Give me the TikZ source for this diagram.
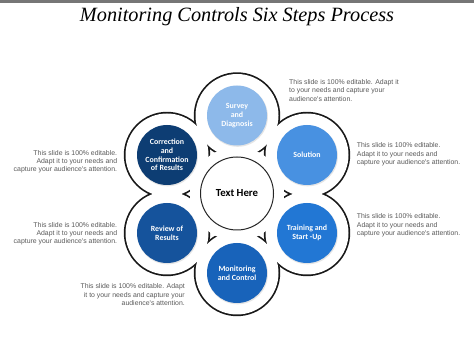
\documentclass[tikz,border=0pt]{standalone}
\usepackage{fontspec}
\usepackage{graphicx}
\newfontfamily\lblfont{Carlito}
\newfontfamily\descfont{Liberation Sans}
\newfontfamily\ttlfont{Liberation Serif}
\definecolor{cS}{RGB}{141,185,234}
\definecolor{cSo}{RGB}{72,145,225}
\definecolor{cT}{RGB}{34,119,212}
\definecolor{cM}{RGB}{24,99,186}
\definecolor{cR}{RGB}{21,83,156}
\definecolor{cC}{RGB}{13,61,115}
\definecolor{desccol}{RGB}{90,90,90}
\definecolor{topbar}{RGB}{118,118,118}
\begin{document}
\begin{tikzpicture}[x=1pt,y=-1pt,
  ringline/.style={draw=black!90, line width=3.4pt},
  petal/.style={circle, minimum size=60pt, inner sep=0pt, text=white, align=center,
    font=\lblfont\bfseries\fontsize{7.9}{8.7}\selectfont},
  shade/.style={fill=black!10},
  desc/.style={inner sep=0pt, text=desccol, font=\descfont\fontsize{6.9}{8.2}\selectfont},
  ]
\useasboundingbox (0,0) rectangle (474,355);
\fill[white] (0,0) rectangle (474,355);
\fill[topbar] (0,0) rectangle (474,2.7);
% title
\node[anchor=base, inner sep=0pt] (title) at (237,22)
  {\resizebox{314pt}{!}{\ttlfont\itshape Monitoring Controls Six Steps Process}};
% petal centres
\coordinate (pS) at (237,115.5);
\coordinate (pSo) at (307,155);
\coordinate (pT) at (307,233);
\coordinate (pM) at (237,273);
\coordinate (pR) at (167,233);
\coordinate (pC) at (167,155);
% union outline of the petals
\foreach \p in {pS,pSo,pT,pM,pR,pC} \draw[ringline] (\p) circle (41.5pt);
\foreach \p in {pS,pSo,pT,pM,pR,pC} \fill[white] (\p) circle (41.5pt);
% central hub
\fill[white] (237,194) circle (47pt);
\node[circle, draw=black!85, line width=1pt, fill=white, minimum size=73pt, inner sep=0pt,
  font=\lblfont\bfseries\fontsize{10.8}{12}\selectfont] (hub) at (237,193.5) {Text Here};
% shadows
\foreach \p in {pS,pSo,pT,pM,pR,pC} \fill[shade] ([shift={(0.6,1.0)}]\p) circle (30.3pt);
% petals
\node[petal, fill=cS] (survey) at (pS) {Survey\\and\\Diagnosis};
\node[petal, fill=cSo] (solution) at (pSo) {Solution};
\node[petal, fill=cT] (training) at (pT) {Training and\\Start -Up};
\node[petal, fill=cM] (monitoring) at (pM) {Monitoring\\and Control};
\node[petal, fill=cR] (review) at (pR) {Review of\\Results};
\node[petal, fill=cC] (correction) at (pC) {Correction\\and\\Confirmation\\of Results};
% descriptions
\node[desc, anchor=north west, align=left] (d1) at (289,79.5)
  {This slide is 100\% editable. Adapt it\\to your needs and capture your\\audience's attention.};
\node[desc, anchor=north west, align=left] (d2) at (356.7,142.7)
  {This slide is 100\% editable.\\Adapt it to your needs and\\capture your audience's attention.};
\node[desc, anchor=north west, align=left] (d3) at (356.7,213.7)
  {This slide is 100\% editable.\\Adapt it to your needs and\\capture your audience's attention.};
\node[desc, anchor=north east, align=right] (d4) at (117.3,150.3)
  {This slide is 100\% editable.\\Adapt it to your needs and\\capture your audience's attention.};
\node[desc, anchor=north east, align=right] (d5) at (117.3,222)
  {This slide is 100\% editable.\\Adapt it to your needs and\\capture your audience's attention.};
\node[desc, anchor=north east, align=right] (d6) at (185,283.7)
  {This slide is 100\% editable. Adapt\\it to your needs and capture your\\audience's attention.};
\end{tikzpicture}
\end{document}
